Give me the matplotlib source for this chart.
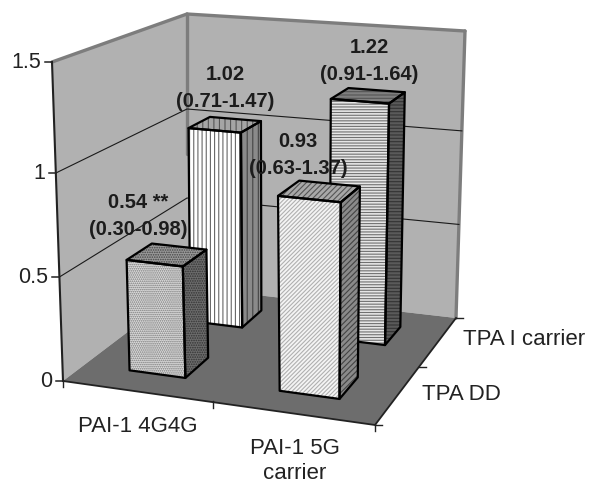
import numpy as np
import matplotlib
matplotlib.use("Agg")
import matplotlib.pyplot as plt
from matplotlib.patches import Polygon

plt.rcParams['font.family'] = ['Liberation Sans', 'DejaVu Sans']

# chart data
x_categories = ['PAI-1 4G4G', 'PAI-1 5G\ncarrier']
y_categories = ['TPA DD', 'TPA I carrier']
z_ticks = [0, 0.5, 1, 1.5]
z_tick_labels = ['0', '0.5', '1', '1.5']
values_tpa_dd = [0.54, 0.93]
values_tpa_i = [1.02, 1.22]
labels_tpa_dd = ['0.54 **\n(0.30-0.98)', '0.93\n(0.63-1.37)']
labels_tpa_i = ['1.02\n(0.71-1.47)', '1.22\n(0.91-1.64)']


def homography(dst):
    # unit square -> 4 image points
    src = [(0, 0), (1, 0), (1, 1), (0, 1)]
    A, b = [], []
    for (u, v), (px, py) in zip(src, dst):
        A.append([u, v, 1, 0, 0, 0, -u * px, -v * px])
        A.append([0, 0, 0, u, v, 1, -u * py, -v * py])
        b += [px, py]
    h = np.linalg.solve(np.array(A, float), np.array(b, float))
    return np.append(h, 1).reshape(3, 3)


# box corners in picture pixels: front-left, front-right, back-right, back-left
H_floor = homography([(63, 381), (375, 425), (456, 318), (187, 287)])
H_top = homography([(52, 62), (381, 90), (465, 31), (187, 14)])


def apply_h(H, u, v):
    p = H @ np.array([u, v, 1.0])
    return p[:2] / p[2]


def project(x, y, z):
    # x, y in category units (0-2), z in axis units
    f = np.interp(z, z_ticks, [0, 0.326, 0.652, 1])
    a = apply_h(H_floor, x / 2, y / 2)
    b = apply_h(H_top, x / 2, y / 2)
    return tuple(a + (b - a) * f)


def draw_bar(ax, i, j, value, front, side, top, hatch, hatch_side, z):
    gap = 0.31
    x0, x1 = i + gap, i + 1 - gap
    y0, y1 = j + gap, j + 1 - gap
    faces = [
        ([(x0, y0, 0), (x1, y0, 0), (x1, y0, value), (x0, y0, value)], front, hatch),
        ([(x1, y0, 0), (x1, y1, 0), (x1, y1, value), (x1, y0, value)], side, hatch_side),
        ([(x0, y0, value), (x1, y0, value), (x1, y1, value), (x0, y1, value)], top, hatch_side),
    ]
    for pts, (fc, hc), h in faces:
        xy = [project(*p) for p in pts]
        ax.add_patch(Polygon(xy, closed=True, facecolor=fc, edgecolor=hc, hatch=h, lw=0, zorder=z))
        ax.add_patch(Polygon(xy, closed=True, fill=False, edgecolor='black', lw=1.6, zorder=z + 0.1,
                             joinstyle='round'))


fig = plt.figure(figsize=(5.9, 4.86), dpi=100)
ax = fig.add_axes([0, 0, 1, 1])
ax.set_xlim(0, 590)
ax.set_ylim(486, 0)
ax.set_axis_off()
plt.rcParams['hatch.linewidth'] = 0.8

wall_color = '#b1b1b1'
floor_color = '#6d6d6d'
border_color = '#7d7d7d'

# walls and floor
left_wall = [project(0, 0, 0), project(0, 2, 0), project(0, 2, 1.5), project(0, 0, 1.5)]
back_wall = [project(0, 2, 0), project(2, 2, 0), project(2, 2, 1.5), project(0, 2, 1.5)]
floor = [project(0, 0, 0), project(2, 0, 0), project(2, 2, 0), project(0, 2, 0)]
ax.add_patch(Polygon(left_wall, facecolor=wall_color, edgecolor='none', zorder=1))
ax.add_patch(Polygon(back_wall, facecolor=wall_color, edgecolor='none', zorder=1))
ax.add_patch(Polygon(floor, facecolor=floor_color, edgecolor='none', zorder=2))

# wall borders
for a, b in [((0, 0, 1.5), (0, 2, 1.5)), ((0, 2, 1.5), (2, 2, 1.5)),
             ((2, 2, 1.5), (2, 2, 0)), ((0, 2, 1.5), (0, 2, 0.75))]:
    pa, pb = project(*a), project(*b)
    ax.plot([pa[0], pb[0]], [pa[1], pb[1]], color=border_color, lw=2.4, zorder=3,
            solid_capstyle='round')

# gridlines
for z_val in z_ticks[1:-1]:
    pts = [project(0, 0, z_val), project(0, 2, z_val), project(2, 2, z_val)]
    ax.plot([p[0] for p in pts], [p[1] for p in pts], color='#1a1a1a', lw=0.8, zorder=3)

# axes lines and ticks
pa, pb = project(0, 0, 0), project(0, 0, 1.5)
ax.plot([pa[0], pb[0]], [pa[1], pb[1]], color='#222222', lw=1.5, zorder=4)
pts = [project(0, 0, 0), project(2, 0, 0), project(2, 2, 0)]
ax.plot([p[0] for p in pts], [p[1] for p in pts], color='#222222', lw=1.3, zorder=4)

for z_val, lab in zip(z_ticks, z_tick_labels):
    px, py = project(0, 0, z_val)
    ax.plot([px - 7, px], [py, py], color='#222222', lw=1.1, zorder=4)
    ax.text(px - 11, py, lab, ha='right', va='center', fontsize=15.5, color='#222222')

for i in range(3):
    px, py = project(i, 0, 0)
    ax.plot([px, px], [py - 1, py + 6], color='#222222', lw=1.0, zorder=4)
for j in range(3):
    px, py = project(2, j, 0)
    ax.plot([px, px + 7], [py, py], color='#222222', lw=1.0, zorder=4)

# category labels
ax.text(138, 426, x_categories[0], ha='center', va='center', fontsize=16, color='#222222')
ax.text(295, 461, x_categories[1], ha='center', va='center', fontsize=16, color='#222222',
        linespacing=1.2)
ax.text(422, 394, y_categories[0], ha='left', va='center', fontsize=16, color='#222222')
ax.text(463, 339, y_categories[1], ha='left', va='center', fontsize=16, color='#222222')

# bars, back row first
draw_bar(ax, 0, 1, values_tpa_i[0], ('white', '#666666'), ('#8a8a8a', '#444444'),
         ('#a5a5a5', '#555555'), '||||', '|||', 5)
draw_bar(ax, 1, 1, values_tpa_i[1], ('#e6e6e6', '#707070'), ('#5a5a5a', '#333333'),
         ('#7f7f7f', '#555555'), '------', '-----', 6)
draw_bar(ax, 0, 0, values_tpa_dd[0], ('#dcdcdc', '#777777'), ('#6c6c6c', '#333333'),
         ('#9a9a9a', '#444444'), '........', '.......', 7)
draw_bar(ax, 1, 0, values_tpa_dd[1], ('#f4f4f4', '#b0b0b0'), ('#8a8a8a', '#444444'),
         ('#a8a8a8', '#555555'), '////////', '//////', 8)

# value labels
label_pos = [(138, 216), (298, 155), (225, 88), (369, 61)]
for (tx, ty), lab in zip(label_pos, labels_tpa_dd + labels_tpa_i):
    ax.text(tx, ty, lab, ha='center', va='center', fontsize=14.5, fontweight='bold',
            color='#1c1c1c', linespacing=1.5, zorder=20)

fig.savefig('out.png', dpi=100)
